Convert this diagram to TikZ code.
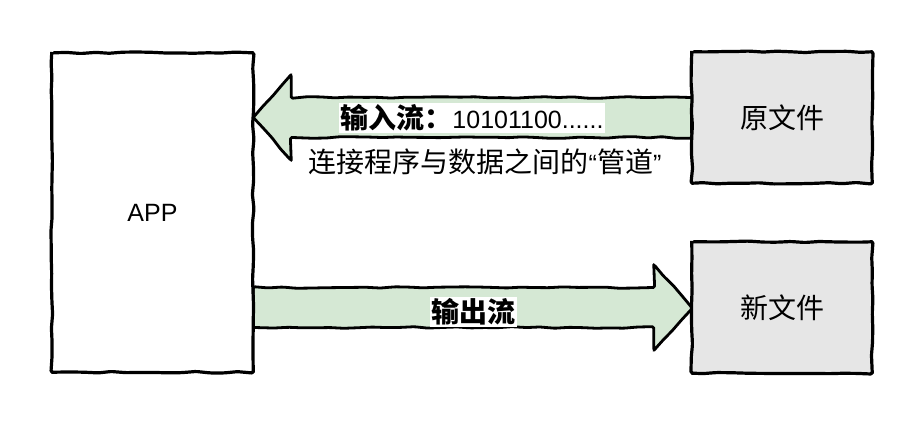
\documentclass[tikz,border=0pt]{standalone}
\usepackage{fontspec}
\setmainfont{Liberation Sans}
\newfontfamily\cjk[Scale=1.12]{Noto Sans CJK SC}
\usetikzlibrary{calc,decorations.pathmorphing}

\definecolor{flowgreen}{HTML}{D5E8D4}
\definecolor{filegray}{HTML}{E6E6E6}

\tikzset{
  sketch/.style={line width=2.8pt, line join=round, draw=black,
    decorate, decoration={random steps, segment length=14pt, amplitude=0.8pt},
    rounded corners=1.5pt},
  boxline/.style={sketch, line width=3.2pt},
  appframe/.style={minimum width=201pt, minimum height=319pt, inner sep=0pt},
  fileframe/.style={minimum width=180pt, minimum height=131pt, inner sep=0pt},
  flowarrow/.style={sketch, fill=flowgreen},
  flowlabel/.style={fill=white, inner sep=1.5pt},
  txt/.style={font=\fontsize{25}{30}\selectfont},
}

\begin{document}
\pgfmathsetseed{7}
\begin{tikzpicture}[x=1pt, y=-1pt]
  \path[use as bounding box] (0,0) rectangle (924,424);

  % the three boxes as named frames
  \node[appframe] (app) at (152.5,212.5) {};
  \node[fileframe] (src) at (782,117.5) {};
  \node[fileframe] (dst) at (782,307.5) {};

  % input flow: from the source file back into the app
  \coordinate (inTip) at (app.east |- src.west);
  \draw[flowarrow] (inTip) -- ($(inTip)+(38,-43)$) -- ($(inTip)+(38,-20)$)
    -- ($(src.west)+(0,-20)$) -- ($(src.west)+(0,20)$)
    -- ($(inTip)+(38,20)$) -- ($(inTip)+(38,43)$) -- cycle;

  % output flow: from the app out to the new file
  \coordinate (outTail) at (app.east |- dst.west);
  \draw[flowarrow] (outTail) -- ++(0,-20) -- ($(dst.west)+(-38,-20)$)
    -- ($(dst.west)+(-38,-43)$) -- (dst.west) -- ($(dst.west)+(-38,43)$)
    -- ($(dst.west)+(-38,20)$) -- ($(outTail)+(0,20)$) -- cycle;

  % box fills, then outlines over them and over the flow ends
  \fill[white] (app.north west) rectangle (app.south east);
  \fill[filegray] (src.north west) rectangle (src.south east);
  \fill[filegray] (dst.north west) rectangle (dst.south east);
  \draw[boxline] (app.north west) -- (app.north east)
    -- (app.south east) -- (app.south west) -- cycle;
  \draw[boxline] (src.north west) -- (src.north east)
    -- (src.south east) -- (src.south west) -- cycle;
  \draw[boxline] (dst.north west) -- (dst.north east)
    -- (dst.south east) -- (dst.south west) -- cycle;

  % box texts
  \node[txt] (appTxt) at (app) {APP};
  \node[txt] (srcTxt) at (src) {\cjk 原文件};
  \node[txt] (dstTxt) at (dst) {\cjk 新文件};

  % flow labels
  \node[flowlabel, txt] (inLbl) at (472,118) {{\cjk\bfseries 输入流：}10101100......};
  \node[txt] (pipeLbl) at (485,162) {{\cjk 连接程序与数据之间的}“{\cjk 管道}”};
  \node[flowlabel, txt] (outLbl) at (473,312) {\cjk\bfseries 输出流};
\end{tikzpicture}
\end{document}
